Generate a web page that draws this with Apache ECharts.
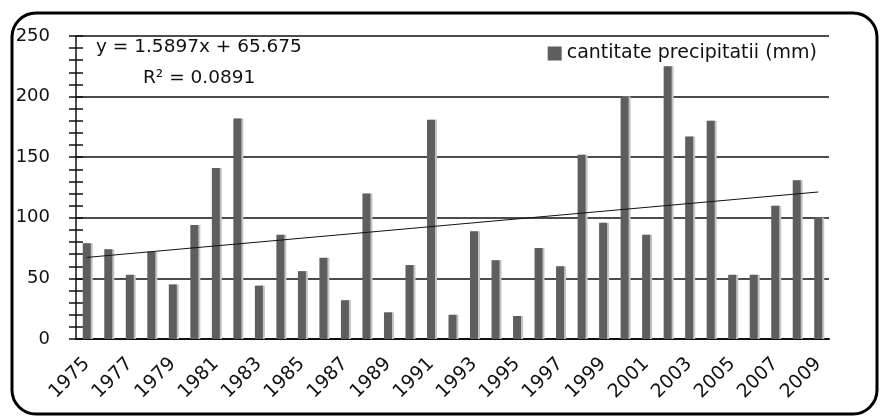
<!DOCTYPE html>
<html>
<head>
<meta charset="utf-8">
<script src="https://cdn.jsdelivr.net/npm/echarts@6/dist/echarts.min.js"></script>
<style>
html,body{margin:0;padding:0;background:#fff;}
#charts{width:880px;height:417px;}
</style>
</head>
<body>
<div id="charts"></div>
<script>
var years = ["1975","1976","1977","1978","1979","1980","1981","1982","1983","1984","1985","1986","1987","1988","1989","1990","1991","1992","1993","1994","1995","1996","1997","1998","1999","2000","2001","2002","2003","2004","2005","2006","2007","2008","2009"];
var precip = [79,74,53,72,45,94,141,182,44,86,56,67,32,120,22,61,181,20,89,65,19,75,60,152,96,200,86,225,167,180,53,53,110,131,100];
// trend line ends, read from the equation y = 1.5897x + 65.675
var trendEnds = [67.3, 121.3];
var yTicks = [0, 50, 100, 150, 200, 250];

var chart = echarts.init(document.getElementById("charts"));
var font = "DejaVu Sans";
var option = {
	animation: false,
	grid: { left: 76, right: 51, top: 36, bottom: 78 },
	graphic: {
		elements: [{
			type: 'rect',
			shape: { x: 12, y: 13, width: 865, height: 401, r: 24 },
			style: { fill: 'none', stroke: '#000', lineWidth: 3 },
			z: 100
		}, {
			type: 'text',
			left: 96,
			top: 38,
			style: { text: "y = 1.5897x + 65.675", fontSize: 18.5, fontFamily: font, fill: '#111' }
		}, {
			type: 'text',
			left: 143,
			top: 69,
			style: { text: "R\u00b2 = 0.0891", fontSize: 18.5, fontFamily: font, fill: '#111' }
		}]
	},
	legend: {
		top: 39,
		right: 58,
		icon: 'rect',
		itemWidth: 14,
		itemHeight: 14,
		textStyle: { fontSize: 19, fontFamily: font, color: '#111' },
		data: ['cantitate precipitatii (mm)']
	},
	xAxis: [{
		type: 'category',
		data: years,
		axisLine: { lineStyle: { color: '#111', width: 2 } },
		axisTick: { interval: 0, length: 8, lineStyle: { color: '#111', width: 1.5 } },
		axisLabel: { interval: 1, rotate: 45, fontSize: 19, fontFamily: font, color: '#111', margin: 22 }
	}, {
		type: 'category',
		data: years,
		position: 'bottom',
		axisLine: { show: false },
		axisTick: { alignWithLabel: true, inside: true, length: 6, interval: 0, lineStyle: { color: '#111', width: 1.5 } },
		axisLabel: { show: false }
	}],
	yAxis: [{
		type: 'value',
		min: 0,
		max: 250,
		interval: 50,
		axisLine: { show: true, lineStyle: { color: '#111', width: 1.5 } },
		axisTick: { show: true, length: 7, lineStyle: { color: '#111', width: 1.5 } },
		minorTick: { show: true, splitNumber: 5, length: 7, lineStyle: { color: '#111', width: 1.5 } },
		splitLine: { lineStyle: { color: '#111', width: 1.5 } },
		axisLabel: {
			fontSize: 18, fontFamily: font, color: '#111', margin: 26,
			formatter: function (v) { return yTicks.indexOf(v) >= 0 ? String(v) : ''; }
		}
	}, {
		type: 'value',
		min: 0,
		max: 250,
		interval: 50,
		position: 'left',
		offset: 0,
		axisLine: { show: false },
		axisTick: { show: true, inside: true, length: 7, lineStyle: { color: '#111', width: 1.5 } },
		minorTick: { show: true, splitNumber: 5, length: 7, lineStyle: { color: '#111', width: 1.5 } },
		splitLine: { show: false },
		axisLabel: { show: false }
	}],
	series: [{
		name: 'cantitate precipitatii (mm)',
		type: 'bar',
		data: precip,
		barWidth: 8,
		itemStyle: {
			color: '#5e5e5e',
			shadowColor: '#c4c4c4',
			shadowOffsetX: 2,
			shadowBlur: 0
		},
		markLine: {
			silent: true,
			symbol: 'none',
			label: { show: false },
			lineStyle: { color: '#111', width: 1, type: 'solid' },
			data: [[
				{ coord: [years[0], trendEnds[0]] },
				{ coord: [years[years.length - 1], trendEnds[1]] }
			]]
		}
	}]
};
chart.setOption(option);
</script>
</body>
</html>
